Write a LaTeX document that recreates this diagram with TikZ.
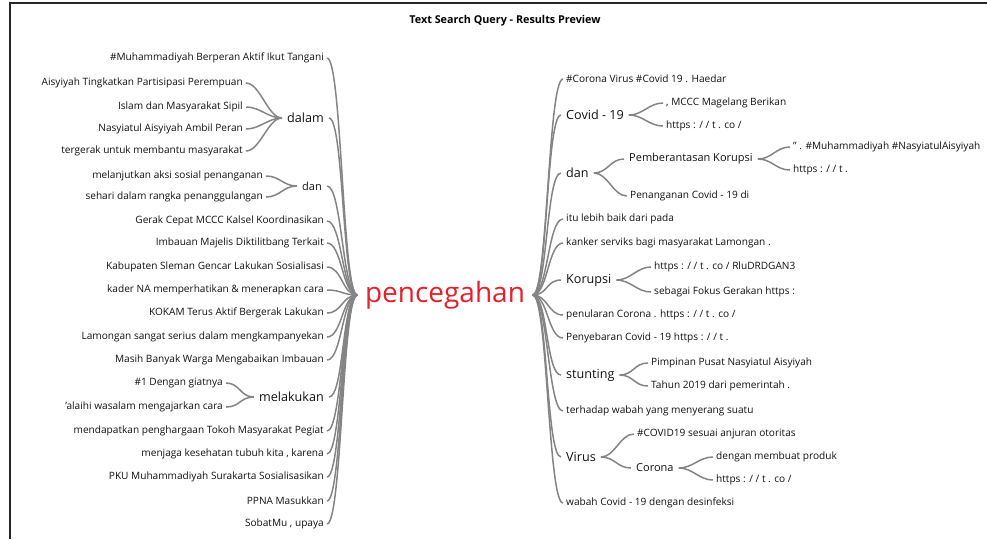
\documentclass[tikz,border=0pt]{standalone}
\usepackage{fontspec}
\setmainfont{Open Sans}
\usepackage{tikz}
\usetikzlibrary{positioning}
\definecolor{linkgray}{HTML}{848484}
\definecolor{rootred}{HTML}{E3202B}
\definecolor{inkgray}{HTML}{111111}
\tikzset{leafnode/.style={inner xsep=3pt,inner ysep=1pt,text=inkgray,font=\fontsize{10.1}{12}\selectfont},
  subhub/.style={leafnode,inner xsep=5pt,font=\fontsize{11}{13}\selectfont},
  hubnode/.style={leafnode,inner xsep=5pt,font=\fontsize{12.6}{14}\selectfont},
  rootnode/.style={text=rootred,inner sep=0pt,minimum width=175pt,font=\fontsize{28}{32}\selectfont},
  titlenode/.style={text=black,font=\bfseries\fontsize{10.8}{12}\selectfont},
  link/.style={draw=linkgray,line width=1.5pt}}

\begin{document}
\begin{tikzpicture}[x=1pt,y=-1pt]
\useasboundingbox (0,0) rectangle (987,539);
\draw[line width=2pt,black!85] (10,539) -- (10,3) -- (987,3);
\node[titlenode] (title) at (505,21) {Text Search Query - Results Preview};
\node[rootnode] (root) at (445,295) {pencegahan};
% left side
\foreach \n/\y/\t in {l1/58/\#Muhammadiyah Berperan Aktif Ikut Tangani,l2/221/Gerak Cepat MCCC Kalsel Koordinasikan,
  l3/243/Imbauan Majelis Diktilitbang Terkait,l4/267/Kabupaten Sleman Gencar Lakukan Sosialisasi,
  l5/290/kader NA memperhatikan \& menerapkan cara,l6/313/KOKAM Terus Aktif Bergerak Lakukan,
  l7/337/Lamongan sangat serius dalam mengkampanyekan,l8/360/Masih Banyak Warga Mengabaikan Imbauan,
  l9/431/mendapatkan penghargaan Tokoh Masyarakat Pegiat,l10/454/{menjaga kesehatan tubuh kita , karena},
  l11/477/PKU Muhammadiyah Surakarta Sosialisasikan,l12/501/PPNA Masukkan,l13/524/{SobatMu , upaya}}
  \node[leafnode,anchor=east] (\n) at (327,\y) {\t};
\node[hubnode,anchor=east] (dalam) at (329,118) {dalam};
\node[subhub,anchor=east] (danL) at (327,186) {dan};
\node[hubnode,anchor=east] (melakukan) at (329,397) {melakukan};
\foreach \n/\x/\y/\t in {dalam1/246/83/Aisyiyah Tingkatkan Partisipasi Perempuan,dalam2/246/107/Islam dan Masyarakat Sipil,
  dalam3/246/129/Nasyiatul Aisyiyah Ambil Peran,dalam4/246/151/tergerak untuk membantu masyarakat,
  danL1/266/176/melanjutkan aksi sosial penanganan,danL2/266/197/sehari dalam rangka penanggulangan,
  melakukan1/226/383/\#1 Dengan giatnya,melakukan2/226/407/'alaihi wasalam mengajarkan cara}
  \node[leafnode,anchor=east] (\n) at (\x,\y) {\t};
% right side
\foreach \n/\y/\t in {r1/79/\#Corona Virus \#Covid 19 . Haedar,r4/219/itu lebih baik dari pada,
  r5/243/kanker serviks bagi masyarakat Lamongan .,r7/315/{penularan Corona . https : / / t . co /},
  r8/338/{Penyebaran Covid - 19 https : / / t .},r10/411/terhadap wabah yang menyerang suatu,
  r12/503/wabah Covid - 19 dengan desinfeksi}
  \node[leafnode,anchor=west] (\n) at (563,\y) {\t};
\foreach \n/\y/\t in {covid/115/Covid - 19,danR/173/dan,korupsi/280/Korupsi,stunting/375/stunting,virus/457/Virus}
  \node[hubnode,anchor=west] (\n) at (561,\y) {\t};
\node[subhub,anchor=west] (pemberantasan) at (624,159) {Pemberantasan Korupsi};
\node[subhub,anchor=west] (corona) at (631,468) {Corona};
\foreach \n/\x/\y/\t in {covid1/663/103/{, MCCC Magelang Berikan},covid2/663/126/{https : / / t . co /},
  pemberantasan1/790/147/{" . \#Muhammadiyah \#NasyiatulAisyiyah},pemberantasan2/790/170/{https : / / t .},
  danR2/627/196/Penanganan Covid - 19 di,
  korupsi1/651/267/{https : / / t . co / RluDRDGAN3},korupsi2/651/292/{sebagai Fokus Gerakan https :},
  stunting1/648/363/Pimpinan Pusat Nasyiatul Aisyiyah,stunting2/648/386/Tahun 2019 dari pemerintah .,
  virus1/634/434/\#COVID19 sesuai anjuran otoritas,
  corona1/713/457/dengan membuat produk,corona2/713/480/{https : / / t . co /}}
  \node[leafnode,anchor=west] (\n) at (\x,\y) {\t};
% connectors
\foreach \c in {l1,dalam,danL,l2,l3,l4,l5,l6,l7,l8,melakukan,l9,l10,l11,l12,l13}
  \draw[link] (\c.east) .. controls +(15,0) and +(-15,0) .. (root.west);
\foreach \c in {r1,covid,danR,r4,r5,korupsi,r7,r8,stunting,r10,virus,r12}
  \draw[link] (root.east) .. controls +(15,0) and +(-15,0) .. (\c.west);
\foreach \c/\p in {dalam1/dalam,dalam2/dalam,dalam3/dalam,dalam4/dalam,danL1/danL,danL2/danL,
  melakukan1/melakukan,melakukan2/melakukan}
  \draw[link] (\c.east) .. controls +(14,0) and +(-14,0) .. (\p.west);
\foreach \p/\c in {covid/covid1,covid/covid2,danR/pemberantasan,danR/danR2,pemberantasan/pemberantasan1,
  pemberantasan/pemberantasan2,korupsi/korupsi1,korupsi/korupsi2,stunting/stunting1,stunting/stunting2,
  virus/virus1,virus/corona,corona/corona1,corona/corona2}
  \draw[link] (\p.east) .. controls +(14,0) and +(-14,0) .. (\c.west);
\end{tikzpicture}
\end{document}
